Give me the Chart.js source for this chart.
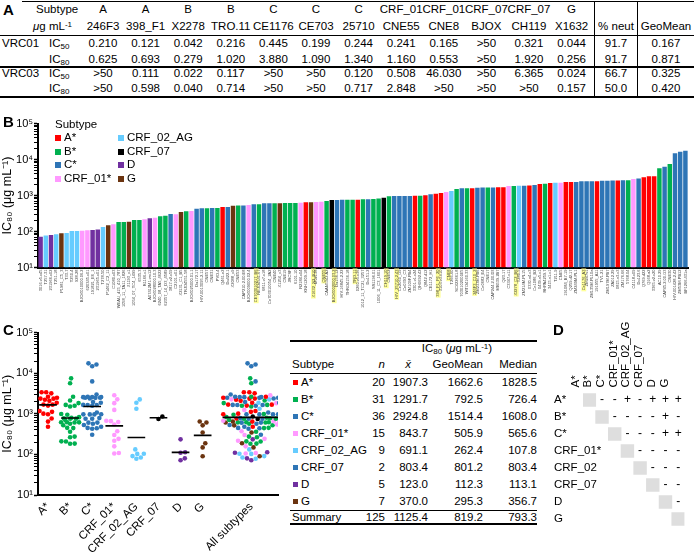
<!DOCTYPE html>
<html><head><meta charset="utf-8">
<script src="https://cdn.jsdelivr.net/npm/chart.js@4.4.1/dist/chart.umd.min.js"></script>
<style>
body{margin:0;background:#fff;}
#root{position:relative;width:694px;height:552px;overflow:hidden;font-family:"Liberation Sans",Arial,Helvetica,sans-serif;color:#000;font-size:11.5px;}
.abs{position:absolute;white-space:nowrap;line-height:1;}
.abs sup{font-size:0.7em;vertical-align:0.45em;line-height:0;}
.abs sub{font-size:0.7em;vertical-align:-0.25em;line-height:0;}
.ln{position:absolute;background:#000;}
.sq{position:absolute;}
canvas{position:absolute;}
</style></head><body><div id="root">
<canvas id="cB" width="694" height="204" style="left:0;top:106px"></canvas>
<canvas id="cC" width="290" height="234" style="left:0;top:318px"></canvas>
<canvas id="cD" width="140" height="234" style="left:554px;top:318px"></canvas>
</div>
<script>
// ---------------- DATA ----------------
// Panel A
const aSubtypes = ['A','A','B','B','C','C','C','CRF_01','CRF_01','CRF_07','CRF_07','G'];
const aViruses = ['246F3','398_F1','X2278','TRO.11','CE1176','CE703','25710','CNE55','CNE8','BJOX','CH119','X1632'];
const vrc01IC50 = ['0.210','0.121','0.042','0.216','0.445','0.199','0.244','0.241','0.165','>50','0.321','0.044'];
const vrc01IC80 = ['0.625','0.693','0.279','1.020','3.880','1.090','1.340','1.160','0.553','>50','1.920','0.256'];
const vrc03IC50 = ['>50','0.111','0.022','0.117','>50','>50','0.120','0.508','46.030','>50','6.365','0.024'];
const vrc03IC80 = ['>50','0.598','0.040','0.714','>50','>50','0.717','2.848','>50','>50','>50','0.157'];
const pctNeut = ['91.7','91.7','66.7','50.0'];
const geoMeanA = ['0.167','0.871','0.325','0.420'];

// Panel B (sorted IC80 per virus)
const virusNames = ['3016.v5.c45','T257-31','231966.c02','T251-18','P1981_C5_3','T33-7','T250-4','928-28','BJOX010000.06.2','620345.c01',
'191821_E6_1','231965.c01','T278-50','P1462_C2_11','C1080.c03','WEAU_d15_410_787','1058_11_TA11_1826','X1193_c1','1054_07_TC4_1499','6535.3',
'R1166.c1','A07412M1.vrc12','BJOX028000.10.3','6240_08_TA5_4622','62357_14_D3_4589','3817.v2.c59','C2101.c01','X2131_C1_B5','TRJO4551.58','BJOX025000.01.1',
'Du172.17','HIV-0013095-2.11','CNE57','CNE31','PVO.4','Q461.e2','Du422.1','X2088_c9','CNE53','CAP210.2.00.E8',
'BJOX009000.02.4','CE703010217_B6','REJO4541.67','6811.v7.c18','Ce703010054_2A2','CNE40','X1254_c3','CNE19','JRCSF','6101.10',
'R2184.c04','KNH1209.18','X1632_S2_B10','M02138','CNE55','CAAN5342.A2','BJOX002000.03.2','Du156.12','HIV-16845-2.22','THRO4156.18',
'TRO.11','0260.v5.c36','1012_11_TC21_3257','Du151.2','SS1196.01','1006_11_C3_1601','CH119.10','CNE52','HIV_25710-2.43','Ce2060_G9',
'Ce0393_C3','ZM109F.PB4','3301.v1.c24','QH0692.42','Q842.d12','CE1172_H1','398_F1_F6_20','3103.v3.c10','CNE8','T266-60',
'SC422661.8','7030102001E5','WITO4160.33','246F3_C10_2','ZM233M.PB6','Ce0682_E4','CNE17','CAP244.2.00.D3','MB539.2B7','Q23.17',
'C3347.c11','X2278_C2_B6','T280-5','ZM214M.PL15','0330.v4.c3','Ce1086_B2','0439.v5.c1','RHPA4259.7','3415.v1.c1','T211-9',
'CNE5','191084_B7-19','Q259.d2.17','ZM249M.PL1','Ce1176_A3','ZM247v1','ZM135M.PL10a','191955_A11','TV1.21','ZM197M.PB7',
'ZA012.29','0815.v3.c3','ZM176.66','5768.04','C4118.c09','Du123.6','Q769.d22','Q168.a2','3365.v2.c20','AC10.29',
'CAP45.2.00.G3','CNE30','HIV-001428-2.42','ZM53M.PB12','BF1266.431a'];
const virusSubtypes = ['D','AG','D','AG','G','AG','AG','AG','01','01',
'D','D','AG','G','01','B','B','G','B','B',
'01','D','01','B','B','C','01','G','B','01',
'C','C','B','C','B','A','C','G','B','C',
'01','C','B','C','C','B','G','B','B','B',
'01','A','G','01','01','B','07','C','C','B',
'B','A','B','C','B','B','07','B','C','C',
'C','C','A','B','A','C','A','A','01','AG',
'B','C','B','A','C','C','B','C','A','A',
'01','B','AG','C','A','C','A','B','A','AG',
'01','A','A','C','C','C','C','A','C','C',
'C','A','C','B','01','C','A','A','A','B',
'C','B','C','C','C'];
const ic80Values = [72,78,80,84,90,91,103,104,105,108,
110,113,133,149,158,184,185,188,209,210,
218,235,242,264,275,306,300,347,363,372,
430,441,445,450,452,479,482,521,525,530,
545,569,572,607,608,610,612,617,620,622,
630,645,648,660,675,703,744,755,758,760,
762,766,782,785,800,830,863,948,968,970,
972,975,980,990,1010,1080,1120,1175,1250,1335,
1515,1585,1590,1595,1650,1655,1660,1662,1685,1690,
1835,1840,1875,1880,1885,1950,2090,2130,2220,2270,
2275,2370,2375,2380,2480,2485,2490,2495,2580,2585,
2590,2630,2635,2640,2870,2990,3200,3415,3420,5690,
6300,7500,14860,16500,17550];
const highlighted = ['CE703010217_B6','X1632_S2_B10','CNE55','BJOX002000.03.2','TRO.11','CH119.10','HIV_25710-2.43','398_F1_F6_20','CNE8','246F3_C10_2','X2278_C2_B6','Ce1176_A3'];

// Legend / groups
const subtypeCodes = ['A','B','C','01','AG','07','D','G'];
const subtypeNames = ['A*','B*','C*','CRF_01*','CRF_02_AG','CRF_07','D','G'];
const subtypeColors = ['#ff0000','#00b050','#2e75b6','#ff99ff','#66ccff','#000000','#7030a0','#6b3410'];
const tableSquareColors = ['#ff0000','#00b050','#2e75b6','#ff99ff','#66ccff','#2e75b6','#7030a0','#6b3410'];

// Panel C table
const tableN = ['20','31','36','15','9','2','5','7'];
const tableMean = ['1907.3','1291.7','2924.8','843.7','691.1','803.4','123.0','370.0'];
const tableGeo = ['1662.6','792.5','1514.4','505.9','262.4','801.2','112.3','295.3'];
const tableMedian = ['1828.5','726.4','1608.0','565.6','107.8','803.4','113.1','356.7'];
const summaryRow = ['Summary','125','1125.4','819.2','793.3'];
const groupGeoMeans = [1662.6,792.5,1514.4,505.9,262.4,801.2,112.3,295.3,819.2];
const groupLabelsC = ['A*','B*','C*','CRF_01*','CRF_02_AG','CRF_07','D','G','All subtypes'];

// Panel D
const dRowLabels = ['A*','B*','C*','CRF_01*','CRF_02','CRF_07','D','G'];
const dColLabels = ['A*','B*','C*','CRF_01*','CRF_02_AG','CRF_07','D','G'];
const dSigns = [['-','-','+','-','+','+','+'],['-','-','-','-','+','-'],['-','-','-','+','+'],['-','-','-','-'],['-','-','-'],['-','-'],['-']];

// ---------------- HELPERS ----------------
const FONT = "'Liberation Sans', Arial, Helvetica, sans-serif";
Chart.defaults.font.family = FONT;
Chart.defaults.color = '#000';
const root = document.getElementById('root');
function put(html,x,y,o={}){const d=document.createElement('div');d.className='abs';d.innerHTML=html;d.style.left=x+'px';d.style.top=y+'px';
 const ax=o.align==='center'?'-50%':o.align==='right'?'-100%':'0';d.style.transform=`translate(${ax},-50%)`;
 if(o.size)d.style.fontSize=o.size+'px';if(o.bold)d.style.fontWeight='bold';if(o.italic)d.style.fontStyle='italic';root.appendChild(d);return d;}
function hline(x1,x2,y,w){const d=document.createElement('div');d.className='ln';d.style.left=x1+'px';d.style.width=(x2-x1)+'px';d.style.top=(y-w/2)+'px';d.style.height=w+'px';root.appendChild(d);}
function vline(x,y1,y2,w){const d=document.createElement('div');d.className='ln';d.style.left=(x-w/2)+'px';d.style.width=w+'px';d.style.top=y1+'px';d.style.height=(y2-y1)+'px';root.appendChild(d);}
function sq(x,y,s,c){const d=document.createElement('div');d.className='sq';d.style.left=x+'px';d.style.top=(y-s/2)+'px';d.style.width=s+'px';d.style.height=s+'px';d.style.background=c;root.appendChild(d);}
const SUP={1:'¹',2:'²',3:'³',4:'⁴',5:'⁵'};
function isPow10(v){const e=Math.log10(v);return Math.abs(e-Math.round(e))<1e-9;}
function logTickList(e0,e1){const t=[];for(let e=e0;e<e1;e++){for(let m=1;m<10;m++)t.push({value:m*Math.pow(10,e),major:m===1});}t.push({value:Math.pow(10,e1),major:true});return t;}
function logAxis(width){return {type:'logarithmic',min:10,max:100000,
  afterBuildTicks:s=>{s.ticks=logTickList(1,5);},
  afterFit:s=>{s.width=width;},
  border:{color:'#000',width:2},
  grid:{display:true,drawOnChartArea:false,drawTicks:true,tickLength:4,color:'#000',tickWidth:c=>(c.tick&&isPow10(c.tick.value))?1.5:1},
  ticks:{autoSkip:false,padding:1,font:{size:11},color:'#000',callback:v=>isPow10(v)?'10'+SUP[Math.round(Math.log10(v))]:''},
  title:{display:true,text:'IC₈₀ (μg mL⁻¹)',font:{size:12.5},color:'#000',padding:{top:0,bottom:0}}};}

// ---------------- PANEL A (table) ----------------
put('A',3,9,{bold:true,size:15});
const colX = aViruses.map((_,i)=>103+42.6*i);
const rowsY=[10,26.5,44,59.5,74,88.5];
hline(22,694,1.5,1.5); hline(0,694,35.5,1); hline(0,694,66.5,2); hline(0,694,97,1.5);
vline(594,1.5,97,1); vline(637,1.5,97,1);
put('Subtype',36,rowsY[0]); put('<i>μ</i>g mL<sup>-1</sup>',33,rowsY[1]);
aSubtypes.forEach((s,i)=>put(s,colX[i],rowsY[0],{align:'center'}));
aViruses.forEach((s,i)=>put(s,colX[i],rowsY[1],{align:'center'}));
put('% neut',616,rowsY[1],{align:'center'}); put('GeoMean',666,rowsY[1],{align:'center'});
[[vrc01IC50,'VRC01','50'],[vrc01IC80,'','80'],[vrc03IC50,'VRC03','50'],[vrc03IC80,'','80']].forEach((r,k)=>{
  const y=rowsY[k+2]; if(r[1])put(r[1],2,y); put('IC<sub>'+r[2]+'</sub>',49,y);
  r[0].forEach((v,i)=>put(v,colX[i],y,{align:'center'}));
  put(pctNeut[k],616,y,{align:'center'}); put(geoMeanA[k],666,y,{align:'center'});
});

// ---------------- PANEL B ----------------
put('B',3,121,{bold:true,size:15});
put('Subtype',55,125,{size:11.5});
subtypeNames.forEach((n,i)=>{const col=Math.floor(i/4),r=i%4;const x=col?118:55;const y=138+r*13.5;sq(x,y,6,subtypeColors[i]);put(n,x+9,y,{size:11.5});});
const colorOf = c=>subtypeColors[subtypeCodes.indexOf(c)];
new Chart(document.getElementById('cB'),{type:'bar',
 data:{labels:virusNames,datasets:[{data:ic80Values,backgroundColor:virusSubtypes.map(colorOf),barPercentage:0.86,categoryPercentage:1}]},
 options:{responsive:false,animation:false,devicePixelRatio:1,
  layout:{padding:{top:17.5,right:6,left:0,bottom:0}},
  plugins:{legend:{display:false},tooltip:{enabled:false}},
  scales:{
   x:{grid:{display:false,drawTicks:false},border:{color:'#000',width:2},afterFit:s=>{s.height=42.5;},
      ticks:{autoSkip:false,minRotation:90,maxRotation:90,padding:2,font:{size:4},color:'#444',
        showLabelBackdrop:c=>highlighted.includes(virusNames[c.index]),backdropColor:'#ffff99',backdropPadding:{top:0,bottom:0,left:1,right:1}}},
   y:logAxis(38)}}});

// ---------------- PANEL C (dot plot) ----------------
put('C',3,329,{bold:true,size:15});
const C_XMIN=0.548,C_XMAX=11.41,C_PLOTW=240,C_DEC=40.6;
const groupPos=[1,2,3,4,5,6,7,8,10.2];
const pxPerUnit=C_PLOTW/(C_XMAX-C_XMIN);
// deterministic bounded beeswarm: horizontal spacing sx px, vertical collision range hy px, half-width limit W px
function swarm(vals,sx,hy,W){const order=vals.map((v,i)=>i).sort((a,b)=>vals[a]-vals[b]);const placed=[];const off=new Array(vals.length);
 const need=(dy)=>sx*Math.sqrt(Math.max(0,1-(dy/hy)*(dy/hy)));
 for(const i of order){const y=Math.log10(vals[i])*C_DEC;const near=placed.filter(p=>Math.abs(p.y-y)<hy);
  const cands=[0];near.forEach(p=>{const dx=need(p.y-y);cands.push(p.x+dx,p.x-dx);});
  for(let g=-W;g<=W+1e-9;g+=0.5)cands.push(g);
  let best=0,bestPen=Infinity;
  cands.filter(c=>Math.abs(c)<=W+1e-9).forEach(c=>{let pen=0;near.forEach(p=>{pen+=Math.max(0,need(p.y-y)-Math.abs(p.x-c));});
   if(pen<bestPen-1e-6||(Math.abs(pen-bestPen)<=1e-6&&Math.abs(c)<Math.abs(best))){bestPen=pen;best=c;}});
  placed.push({x:best,y});off[i]=best;}
 return off;}
const cDatasets=[];
groupGeoMeans.forEach((g,k)=>{const hw=k===8?1.3:0.4;cDatasets.push({data:[{x:groupPos[k]-hw,y:g},{x:groupPos[k]+hw,y:g}],showLine:true,borderColor:'#000',borderWidth:1.6,pointRadius:0});});
subtypeCodes.forEach((c,k)=>{const vals=ic80Values.filter((v,i)=>virusSubtypes[i]===c);const off=swarm(vals,4.6,5,9);
 cDatasets.push({data:vals.map((v,i)=>({x:groupPos[k]+off[i]/pxPerUnit,y:v})),backgroundColor:subtypeColors[k],borderWidth:0,pointRadius:2.3});});
{const off=swarm(ic80Values,4.6,5,28);cDatasets.push({data:ic80Values.map((v,i)=>({x:groupPos[8]+off[i]/pxPerUnit,y:v})),
  backgroundColor:virusSubtypes.map(colorOf),borderWidth:0,pointRadius:2.3});}
new Chart(document.getElementById('cC'),{type:'scatter',data:{datasets:cDatasets},
 options:{responsive:false,animation:false,devicePixelRatio:1,
  layout:{padding:{top:14.7,right:12,left:0,bottom:0}},
  plugins:{legend:{display:false},tooltip:{enabled:false}},
  scales:{
   x:{type:'linear',min:C_XMIN,max:C_XMAX,afterBuildTicks:s=>{s.ticks=groupPos.map(v=>({value:v}));},afterFit:s=>{s.height=57;},
      grid:{display:false,drawTicks:false},border:{color:'#000',width:2},
      ticks:{autoSkip:false,minRotation:45,maxRotation:45,padding:5,font:{size:11.5},color:'#000',callback:v=>{const k=groupPos.indexOf(v);return k>=0?groupLabelsC[k]:'';}}},
   y:logAxis(38)}}});

// ---------------- PANEL C (table) ----------------
hline(290,537,341,1.5);
put('IC<sub>80</sub> (<i>μ</i>g mL<sup>-1</sup>)',457,349,{align:'center',size:11.5});
put('Subtype',292,365,{size:11.5}); put('n',385,365,{align:'right',italic:true,size:11.5});
put('x&#772;',408,365,{align:'center',italic:true,size:11.5}); put('GeoMean',483,365,{align:'right',size:11.5}); put('Median',537,365,{align:'right',size:11.5});
hline(290,537,373,1);
subtypeNames.forEach((n,i)=>{const y=382.5+i*17;sq(293,y,4.5,tableSquareColors[i]);put(n,301,y,{size:11.5});
 put(tableN[i],385,y,{align:'right',size:11.5});put(tableMean[i],428,y,{align:'right',size:11.5});
 put(tableGeo[i],483,y,{align:'right',size:11.5});put(tableMedian[i],537,y,{align:'right',size:11.5});});
hline(290,537,510,1);
put(summaryRow[0],292,517.5,{size:11.5});put(summaryRow[1],385,517.5,{align:'right',size:11.5});put(summaryRow[2],428,517.5,{align:'right',size:11.5});
put(summaryRow[3],483,517.5,{align:'right',size:11.5});put(summaryRow[4],537,517.5,{align:'right',size:11.5});
hline(290,537,524,1.2);

// ---------------- PANEL D ----------------
put('D',553,329,{bold:true,size:15});
const signPlugin={id:'signs',afterDatasetsDraw(chart){const {ctx,scales:{x,y}}=chart;ctx.save();ctx.fillStyle='#000';ctx.font='12px '+FONT;ctx.textAlign='center';ctx.textBaseline='middle';
 dSigns.forEach((row,i)=>row.forEach((s,j)=>{ctx.fillText(s,x.getPixelForValue(i+1+j),y.getPixelForValue(i));}));ctx.restore();}};
new Chart(document.getElementById('cD'),{type:'scatter',
 data:{datasets:[{data:dRowLabels.map((_,i)=>({x:i,y:i})),pointStyle:'rect',pointRadius:9.5,backgroundColor:'#dedede',borderWidth:0}]},
 options:{responsive:false,animation:false,devicePixelRatio:1,
  layout:{padding:{top:0,right:4,left:0,bottom:24.5}},
  plugins:{legend:{display:false},tooltip:{enabled:false}},
  scales:{
   x:{type:'linear',position:'top',min:-0.5,max:7.5,afterBuildTicks:s=>{s.ticks=dColLabels.map((_,i)=>({value:i}));},afterFit:s=>{s.height=73.5;},
      grid:{display:false,drawTicks:false},border:{display:false},
      ticks:{autoSkip:false,minRotation:90,maxRotation:90,padding:4,font:{size:11.5},color:'#000',callback:v=>dColLabels[v]??''}},
   y:{type:'linear',reverse:true,min:-0.5,max:7.5,afterBuildTicks:s=>{s.ticks=dRowLabels.map((_,i)=>({value:i}));},afterFit:s=>{s.width=29;},
      grid:{display:false,drawTicks:false},border:{display:false},
      ticks:{autoSkip:false,mirror:true,padding:-29,font:{size:11.5},color:'#000',callback:v=>dRowLabels[v]??''}}}},
 plugins:[signPlugin]});
</script></body></html>
